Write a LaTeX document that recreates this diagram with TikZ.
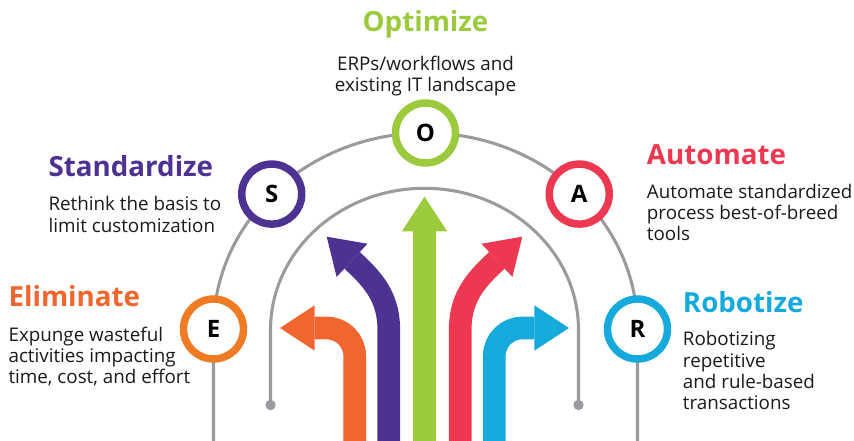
\documentclass[tikz,border=0pt]{standalone}
\usepackage{fontspec}
\setmainfont{Open Sans}
\usetikzlibrary{arrows.meta}
\definecolor{elimorange}{HTML}{F0662E}
\definecolor{ringorange}{HTML}{EF7B24}
\definecolor{stdpurple}{HTML}{4E3292}
\definecolor{optgreen}{HTML}{9BCA3C}
\definecolor{autored}{HTML}{EE3852}
\definecolor{robblue}{HTML}{15AADB}
\definecolor{linegray}{HTML}{9B9B9F}
\definecolor{txtdark}{HTML}{1A1A1A}
\begin{document}
\begin{tikzpicture}[x=0.75pt,y=0.75pt,
    ring/.style={circle,draw=#1,fill=white,line width=5.6pt,minimum size=45pt,
      inner sep=0pt,font=\bfseries\fontsize{18}{18}\selectfont},
    title/.style={anchor=base west,inner sep=0pt,text=#1,
      font=\bfseries\fontsize{20.8}{21}\selectfont},
    desc/.style={anchor=base west,inner sep=0pt,align=left,text=txtdark,
      font=\fontsize{14.1}{16}\selectfont},
    guide/.style={draw=linegray,line width=2.3pt},
    bigarrow/.style={draw=#1,line width=17pt,
      -{Triangle[length=26pt,width=34pt,line width=0pt]}}]
  \useasboundingbox (0,0) rectangle (854,-441);
  \clip (0,0) rectangle (854,-441);

  % guide arcs
  \coordinate (dl) at (270.5,-405);
  \coordinate (dr) at (578.5,-405);
  \coordinate (bl) at (213.5,-460);
  \coordinate (br) at (637.5,-460);
  \draw[guide] (dl) -- (270.5,-330) arc[start angle=180,end angle=0,x radius=154,y radius=141.7] -- (dr);
  \fill[linegray] (dl) circle (5.2) (dr) circle (5.2);
  \draw[guide] (bl) -- (213.5,-329) arc[start angle=180,end angle=0,x radius=212,y radius=196] -- (br);

  % arrows
  \coordinate (eb) at (354.7,-445);
  \coordinate (et) at (280,-328);
  \coordinate (sb) at (388.8,-445);
  \coordinate (st) at (326.7,-236.7);
  \coordinate (ob) at (424.5,-445);
  \coordinate (ot) at (424.5,-196.7);
  \coordinate (ab) at (460.2,-445);
  \coordinate (at) at (522.3,-236.7);
  \coordinate (rb) at (494.3,-445);
  \coordinate (rt) at (569,-328);
  \draw[bigarrow=elimorange,rounded corners=21pt] (eb) -- (354.7,-328) -- (et);
  \draw[bigarrow=stdpurple] (sb) -- (388.8,-330) to[out=90,in=-43] (356,-264) -- (st);
  \draw[bigarrow=optgreen] (ob) -- (ot);
  \draw[bigarrow=autored] (ab) -- (460.2,-330) to[out=90,in=-137] (493,-264) -- (at);
  \draw[bigarrow=robblue,rounded corners=21pt] (rb) -- (494.3,-328) -- (rt);

  % rings
  \begin{scope}[shift={(425.5,-329)}]
    \path (180:212 and 196) node[ring=ringorange] (E) {E}
      (136.5:212 and 196) node[ring=stdpurple] (S) {S}
      (90:212 and 196) node[ring=optgreen] (O) {O}
      (43.5:212 and 196) node[ring=autored] (A) {A}
      (0:212 and 196) node[ring=robblue] (R) {R};
  \end{scope}

  % labels (desc nodes sit on their last line)
  \node[title=optgreen,anchor=base] (optT) at (425.5,-32) {Optimize};
  \node[desc,align=center,anchor=base] (optD) at (425.5,-92) {ERPs/workflows and\\existing IT landscape};
  \node[title=stdpurple] (stdT) at (48.3,-176.7) {Standardize};
  \node[desc] (stdD) at (48.3,-232.3) {Rethink the basis to\\limit customization};
  \node[title=elimorange] (elimT) at (8.3,-306.7) {Eliminate};
  \node[desc] (elimD) at (8.3,-384) {Expunge wasteful\\activities impacting\\time, cost, and effort};
  \node[title=autored] (autoT) at (646.7,-165) {Automate};
  \node[desc] (autoD) at (646.7,-241) {Automate standardized\\process best-of-breed\\tools};
  \node[title=robblue] (robT) at (682.7,-312.7) {Robotize};
  \node[desc] (robD) at (682.7,-410) {Robotizing\\repetitive\\and rule-based\\transactions};
\end{tikzpicture}
\end{document}
